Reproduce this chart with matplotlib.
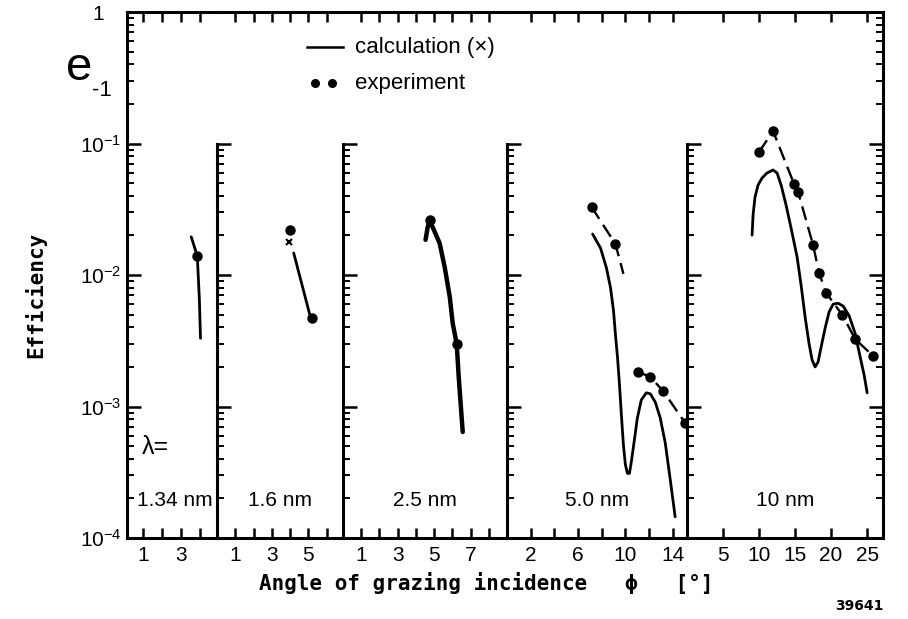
import numpy as np
import matplotlib.pyplot as plt
from matplotlib.ticker import FixedLocator, FixedFormatter, NullFormatter, NullLocator

plt.rcParams['font.family'] = ['Liberation Sans', 'DejaVu Sans']
plt.rcParams['mathtext.default'] = 'regular'

# --- data ---
lam_labels = ['1.34 nm', '1.6 nm', '2.5 nm', '5.0 nm', '10 nm']
x_lims = [(0.15, 4.9), (0, 6.9), (0, 9.0), (0, 15.2), (0, 27.2)]

# x ticks per panel: all ticks, labelled ticks, long ticks
x_ticks = [[1, 2, 3, 4], [1, 2, 3, 4, 5, 6], [1, 2, 3, 4, 5, 6, 7, 8],
           [2, 4, 6, 8, 10, 12, 14], [5, 10, 15, 20, 25]]
x_labeled = [[1, 3], [1, 3, 5], [1, 3, 5, 7], [2, 6, 10, 14], [5, 10, 15, 20, 25]]
x_long = [[], [5], [5], [10], [10, 20]]

# 1.34 nm
calc1_x = [3.54, 3.70, 3.86, 3.97, 4.03]
calc1_y = [0.0195, 0.0165, 0.0139, 0.0065, 0.0033]
exp1_x = [3.86]
exp1_y = [0.0139]

# 1.6 nm
calc2_x = [4.2, 5.08]
calc2_y = [0.0147, 0.0050]
cross2_x = [3.93]
cross2_y = [0.0178]
exp2_x = [3.99, 5.19]
exp2_y = [0.022, 0.0047]

# 2.5 nm
calc3_x = [4.53, 4.64, 4.75, 5.02, 5.30, 5.58, 5.86, 6.02, 6.24, 6.35, 6.57]
calc3_y = [0.0185, 0.0228, 0.0262, 0.0215, 0.0175, 0.0115, 0.0068, 0.0043,
           0.0030, 0.00168, 0.00064]
exp3_x = [4.75, 6.24]
exp3_y = [0.0262, 0.0030]

# 5.0 nm
calc4_x = [7.23, 7.90, 8.40, 8.74, 8.99, 9.16, 9.33, 9.50, 9.66, 9.83, 10.0,
           10.17, 10.34, 10.50, 10.76, 11.01, 11.34, 11.76, 12.10, 12.52,
           12.94, 13.36, 13.78, 14.20]
calc4_y = [0.0205, 0.016, 0.0113, 0.0080, 0.0054, 0.0035, 0.00238, 0.00146,
           0.00086, 0.00051, 0.00036, 0.00031, 0.00031, 0.00038, 0.00056,
           0.00082, 0.00112, 0.00127, 0.00125, 0.00108, 0.00082, 0.00053,
           0.00028, 0.000145]
exp4a_x = [7.14, 9.16, 9.83]
exp4a_y = [0.0329, 0.0172, 0.0102]
exp4b_x = [11.09, 12.10, 13.19, 15.04]
exp4b_y = [0.00183, 0.00168, 0.00131, 0.00075]

# 10 nm
calc5_x = [9.03, 9.17, 9.44, 9.86, 10.42, 11.11, 11.94, 12.5, 13.06, 13.75,
           14.44, 15.28, 15.83, 16.39, 16.94, 17.36, 17.78, 18.19, 18.61,
           19.17, 19.72, 20.28, 20.97, 21.67, 22.5, 23.33, 24.03, 24.58, 25.0]
calc5_y = [0.0201, 0.0286, 0.0392, 0.0483, 0.0547, 0.0597, 0.0629, 0.0597,
           0.0483, 0.034, 0.0228, 0.0137, 0.0084, 0.0048, 0.0030, 0.00226,
           0.0020, 0.00218, 0.00283, 0.00395, 0.00524, 0.0060, 0.0061,
           0.0058, 0.0049, 0.0036, 0.00238, 0.00174, 0.00127]
exp5_x = [10.0, 11.94, 14.86, 15.42, 17.5, 18.33, 19.31, 21.53, 23.33, 25.83]
exp5_y = [0.0861, 0.1245, 0.0492, 0.0428, 0.0169, 0.01036, 0.0073, 0.0050,
          0.00326, 0.00242]

calc_x = [calc1_x, calc2_x, calc3_x, calc4_x, calc5_x]
calc_y = [calc1_y, calc2_y, calc3_y, calc4_y, calc5_y]

# --- layout (pixels) ---
W, H = 908, 619
edges = [127, 217, 343, 507, 687, 883]
top_px, bot_px = 12, 538

fig = plt.figure(figsize=(W / 100, H / 100), dpi=100)

major_y = [1e-4, 1e-3, 1e-2, 1e-1, 1]
minor_y = [m * 10.0 ** e for e in range(-4, 0) for m in range(2, 10)]
minor_inner = [m * 10.0 ** e for e in range(-4, -1) for m in range(2, 10)]


def rect(i0, i1):
    return [edges[i0] / W, 1 - bot_px / H, (edges[i1] - edges[i0]) / W,
            (bot_px - top_px) / H]


axes = []
for i in range(5):
    ax = fig.add_axes(rect(i, i + 1))
    ax.set_yscale('log')
    ax.set_ylim(1e-4, 1)
    ax.set_xlim(*x_lims[i])
    for s in ax.spines.values():
        s.set_linewidth(2.2)
    ax.spines['right'].set_visible(False)

    # x ticks
    ax.xaxis.set_major_locator(FixedLocator(x_ticks[i]))
    ax.xaxis.set_major_formatter(FixedFormatter(
        [str(t) if t in x_labeled[i] else '' for t in x_ticks[i]]))
    ax.xaxis.set_minor_locator(FixedLocator(x_long[i]))
    ax.xaxis.set_minor_formatter(NullFormatter())
    ax.tick_params(axis='x', which='major', direction='in', length=7, width=1.8,
                   top=True, labelsize=15, pad=6)
    ax.tick_params(axis='x', which='minor', direction='in', length=13, width=1.8,
                   top=True)

    # y ticks
    if i == 0:
        ax.yaxis.set_major_locator(FixedLocator(major_y))
        ax.yaxis.set_major_formatter(FixedFormatter(
            ['$10^{-4}$', '$10^{-3}$', '$10^{-2}$', '$10^{-1}$', '1   ']))
        ax.yaxis.set_minor_locator(FixedLocator(minor_y))
    else:
        ax.yaxis.set_major_locator(FixedLocator(major_y[:4]))
        ax.yaxis.set_major_formatter(NullFormatter())
        ax.yaxis.set_minor_locator(FixedLocator(minor_inner))
        ax.spines['left'].set_bounds(1e-4, 1e-1)
    ax.yaxis.set_minor_formatter(NullFormatter())
    ax.tick_params(axis='y', which='major', direction='in', length=10, width=1.8,
                   labelsize=15, pad=4)
    ax.tick_params(axis='y', which='minor', direction='in', length=5, width=1.4)

    # curves
    ax.plot(calc_x[i], calc_y[i], color='black',
            lw=3.2 if i == 2 else 2.0, solid_capstyle='round',
            solid_joinstyle='round', clip_on=False)
    ax.text(0.5 if i else 0.53, 0.072, lam_labels[i], transform=ax.transAxes,
            ha='center', va='center', fontsize=15)
    axes.append(ax)

# right frame with full-height ticks
ax_r = fig.add_axes(rect(4, 5))
ax_r.patch.set_alpha(0)
ax_r.set_yscale('log')
ax_r.set_ylim(1e-4, 1)
ax_r.set_xlim(*x_lims[4])
for k in ['left', 'top', 'bottom']:
    ax_r.spines[k].set_visible(False)
ax_r.spines['right'].set_linewidth(2.2)
ax_r.xaxis.set_major_locator(NullLocator())
ax_r.xaxis.set_minor_locator(NullLocator())
ax_r.yaxis.set_major_locator(FixedLocator(major_y))
ax_r.yaxis.set_minor_locator(FixedLocator(minor_y))
ax_r.yaxis.set_major_formatter(NullFormatter())
ax_r.yaxis.set_minor_formatter(NullFormatter())
ax_r.tick_params(axis='y', which='both', left=False, right=True, direction='in')
ax_r.tick_params(axis='y', which='major', length=10, width=1.8)
ax_r.tick_params(axis='y', which='minor', length=5, width=1.4)

dash = dict(color='black', lw=1.7, dashes=(6, 3), clip_on=False)
dot = dict(color='black', marker='o', ls='none', ms=6.5, clip_on=False)

axes[0].plot(exp1_x, exp1_y, **dot)
axes[0].text(0.17, 0.173, 'λ=', transform=axes[0].transAxes,
             ha='left', va='center', fontsize=18)

axes[1].plot(exp2_x, exp2_y, **dot)
axes[1].plot(cross2_x, cross2_y, color='black', marker='x', ls='none',
             ms=4.5, mew=1.5)

axes[2].plot(exp3_x, exp3_y, **dot)

axes[3].plot(exp4a_x, exp4a_y, **dash)
axes[3].plot(exp4a_x[:2], exp4a_y[:2], **dot)
axes[3].plot(exp4b_x, exp4b_y, **dash)
axes[3].plot(exp4b_x, exp4b_y, **dot)

axes[4].plot(exp5_x, exp5_y, **dash)
axes[4].plot(exp5_x, exp5_y, **dot)

# legend drawn by hand in the top of the frame
fig.add_artist(plt.Line2D([307 / W, 343 / W], [1 - 47 / H, 1 - 47 / H],
                          color='black', lw=1.8))
fig.text(355 / W, 1 - 47 / H, 'calculation (×)', ha='left', va='center',
         fontsize=16)
fig.add_artist(plt.Line2D([315 / W, 332 / W], [1 - 83 / H, 1 - 83 / H],
                          color='black', ls='none', marker='o', ms=5.5))
fig.text(355 / W, 1 - 83 / H, 'experiment', ha='left', va='center',
         fontsize=16)

# e_-1 label
fig.text(66 / W, 1 - 68 / H, 'e', ha='left', va='center', fontsize=34)
fig.text(92 / W, 1 - 90 / H, '-1', ha='left', va='center', fontsize=16)

fig.text(35 / W, 1 - 295 / H, 'Efficiency', rotation=90, ha='center',
         va='center', fontsize=15, fontweight='bold', family='DejaVu Sans Mono')
fig.text(486 / W, 1 - 583 / H, 'Angle of grazing incidence   ϕ   [°]',
         ha='center', va='center', fontsize=15, fontweight='bold',
         family='DejaVu Sans Mono')
fig.text(883 / W, 1 - 606 / H, '39641', ha='right', va='center',
         fontsize=10, fontweight='bold', family='DejaVu Sans')

fig.savefig('out.png', dpi=100)
